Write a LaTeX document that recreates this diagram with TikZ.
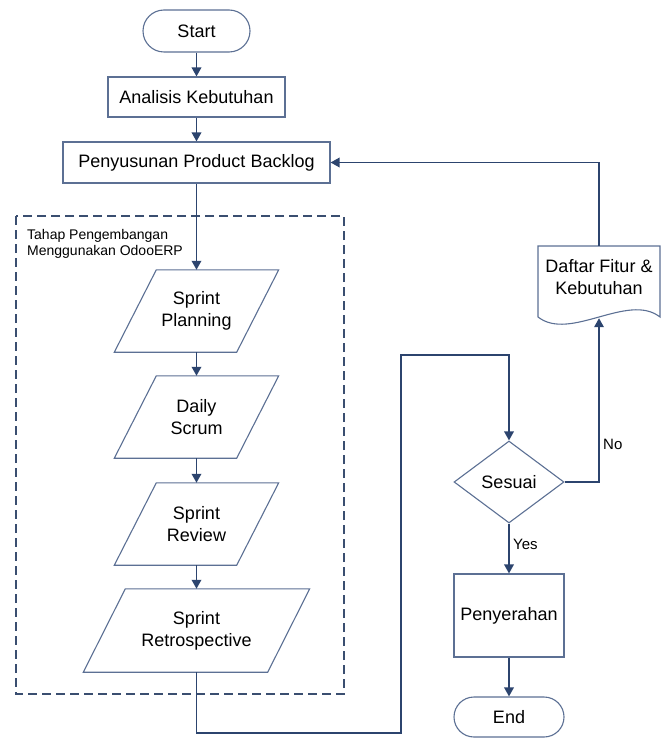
\documentclass[tikz,border=0pt]{standalone}
\usepackage{fontspec}
\setmainfont{Liberation Sans}
\usetikzlibrary{arrows.meta,shapes.geometric}
\definecolor{lineC}{RGB}{44,68,110}
\definecolor{borderC}{RGB}{92,112,148}
\definecolor{dashC}{RGB}{58,78,112}
\begin{document}
\begin{tikzpicture}[x=1pt,y=-1pt,
  base/.style={font=\fontsize{18}{22}\selectfont, align=center, inner sep=0pt, text=black},
  proc/.style={base, rectangle, draw=borderC, line width=1.1pt, fill=white},
  term/.style={proc, rounded corners=20pt},
  hold/.style={base, rectangle, draw=none},
  dec/.style={base, diamond, draw=borderC, line width=1.1pt, fill=white, aspect=1.34},
  outline/.style={draw=borderC, line width=1.1pt, fill=white, line join=miter},
  flow/.style={draw=lineC, line width=1.8pt, -{Triangle[length=9pt,width=9.5pt]}},
  conn/.style={draw=lineC, line width=1.8pt},
  small/.style={font=\fontsize{14}{16}\selectfont, inner sep=0pt, text=black},
  lbl/.style={font=\fontsize{15}{18}\selectfont, inner sep=0pt, text=black}]
\useasboundingbox (0,0) rectangle (662,738);

% group box
\draw[dashC, line width=1.5pt, dash pattern=on 9pt off 5pt] (16,216) rectangle (344,694);
\node[small, anchor=north west, align=left] (grp) at (27,229) {Tahap Pengembangan\\Menggunakan OdooERP};

% main column
\node[term, minimum width=107pt, minimum height=42pt, rounded corners=21pt] (start) at (196.5,31) {Start};
\node[proc, minimum width=177pt, minimum height=40pt] (anal) at (196.5,97) {Analisis Kebutuhan};
\node[proc, minimum width=267pt, minimum height=41pt] (backlog) at (196.5,162.5) {Penyusunan Product Backlog};

% parallelograms (holders + outlines)
\node[hold, minimum width=122pt, minimum height=82pt] (plan) at (196.5,311) {};
\node[hold, minimum width=122pt, minimum height=82pt] (daily) at (196.5,417) {};
\node[hold, minimum width=122pt, minimum height=82pt] (review) at (196.5,524) {};
\node[hold, minimum width=184pt, minimum height=83pt] (retro) at (196.5,630.5) {};
\foreach \n in {plan,daily,review,retro}{
  \draw[outline] ([xshift=21pt]\n.north west) -- ([xshift=21pt]\n.north east)
     -- ([xshift=-21pt]\n.south east) -- ([xshift=-21pt]\n.south west) -- cycle;
}
\node[base] (planT) at (plan) {Sprint\\Planning};
\node[base] (dailyT) at (daily) {Daily\\Scrum};
\node[base] (reviewT) at (review) {Sprint\\Review};
\node[base] (retroT) at (retro) {Sprint\\Retrospective};

% right column
\node[dec, minimum width=110pt, minimum height=82pt] (sesuai) at (509,482) {Sesuai};
\node[proc, minimum width=110pt, minimum height=83pt] (serah) at (509,615.5) {Penyerahan};
\node[term, minimum width=110pt, minimum height=40pt] (end) at (509,717) {End};

% document shape
\node[hold, minimum width=122pt, minimum height=72pt] (daftar) at (599,282) {};
\draw[outline] (538,246) -- (660,246) -- (660,317)
   .. controls (628,292) and (570,342) .. (538,317) -- cycle;
\node[base] (daftarT) at (599,277) {Daftar Fitur \&\\Kebutuhan};

% connectors
\draw[flow] (start.south) -- (anal.north);
\draw[flow] (anal.south) -- (backlog.north);
\draw[flow] (backlog.south) -- (plan.north);
\draw[flow] (plan.south) -- (daily.north);
\draw[flow] (daily.south) -- (review.north);
\draw[flow] (review.south) -- (retro.north);

\coordinate (lb) at (401,733);
\coordinate (lt) at (401,355);
\draw[flow] (retro.south) |- (lb) -- (lt) -| (sesuai.north);

\draw[flow] (sesuai.south) -- (serah.north);
\draw[flow] (serah.south) -- (end.north);
\draw[flow] (sesuai.east) -| (daftar.south);
\draw[flow] (daftar.north) |- (backlog.east);

\node[lbl, anchor=west] (no) at (603,444) {No};
\node[lbl, anchor=west] (yes) at (513,544) {Yes};
\end{tikzpicture}
\end{document}
